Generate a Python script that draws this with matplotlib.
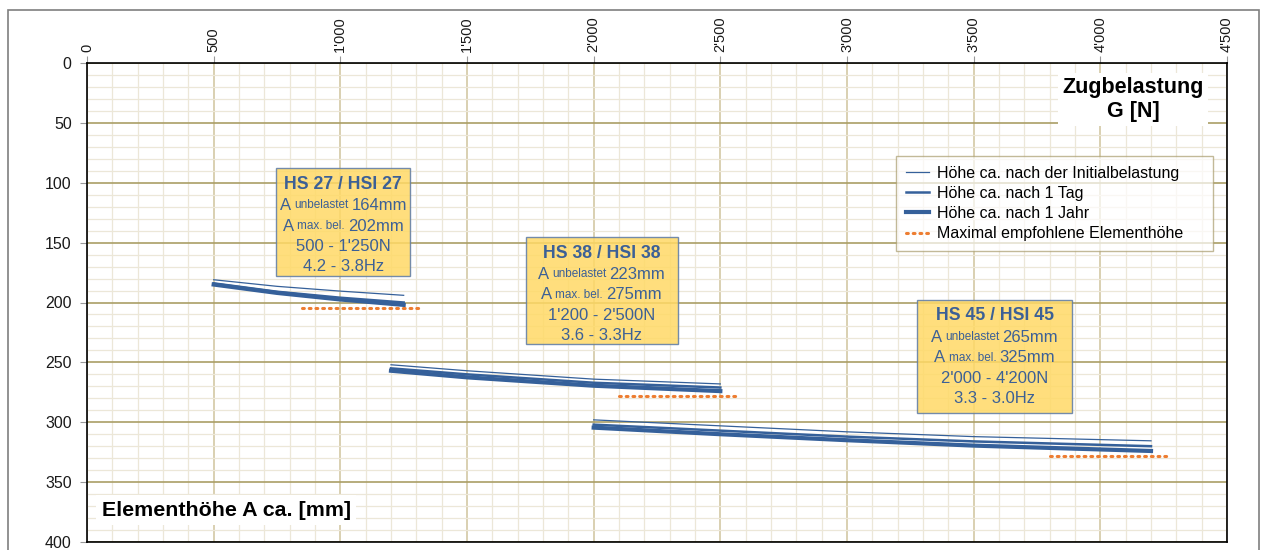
import matplotlib
matplotlib.use("Agg")
import matplotlib.pyplot as plt
from matplotlib.patches import Rectangle
from matplotlib.lines import Line2D
from matplotlib.ticker import MultipleLocator, FuncFormatter

plt.rcParams['font.family'] = ['Liberation Sans', 'DejaVu Sans']

# Daten: Zugbelastung G [N] und Elementhöhe A [mm]
hs27_x = [500, 750, 1000, 1250]
hs27_init = [181, 186.5, 190.5, 194]
hs27_tag = [184, 191, 196, 200]
hs27_jahr = [185, 192, 197.5, 202]
hs27_max_x = [850, 1320]
hs27_max = 205

hs38_x = [1200, 1500, 2000, 2500]
hs38_init = [252, 257, 264, 268]
hs38_tag = [255, 260, 267, 271]
hs38_jahr = [257, 262.5, 269.5, 274]
hs38_max_x = [2100, 2570]
hs38_max = 278

hs45_x = [2000, 2500, 3000, 3500, 4200]
hs45_init = [298, 303, 308, 312, 315.5]
hs45_tag = [302, 307, 312, 316, 320]
hs45_jahr = [304.5, 310, 315, 319.5, 324]
hs45_max_x = [3800, 4280]
hs45_max = 328

typen = ["HS 27 / HSI 27", "HS 38 / HSI 38", "HS 45 / HSI 45"]
a_unbelastet = ["164mm", "223mm", "265mm"]
a_max = ["202mm", "275mm", "325mm"]
kraft = ["500 - 1'250N", "1'200 - 2'500N", "2'000 - 4'200N"]
frequenz = ["4.2 - 3.8Hz", "3.6 - 3.3Hz", "3.3 - 3.0Hz"]

legende = ["Höhe ca. nach der Initialbelastung", "Höhe ca. nach 1 Tag",
           "Höhe ca. nach 1 Jahr", "Maximal empfohlene Elementhöhe"]

BLAU = "#35609A"
ORANGE = "#ED7D31"
TEXTBLAU = "#3C6096"


def tausender(v, pos):
    return f"{int(v):,}".replace(",", "'")


fig = plt.figure(figsize=(12.65, 5.5), dpi=100)
ax = fig.add_axes([87 / 1265, 8 / 550, 1140 / 1265, 479 / 550])

# äusserer Rahmen
fig.patches.append(Rectangle((8 / 1265, -0.1), 1251 / 1265, 1.1 - 10 / 550,
                             transform=fig.transFigure, fill=False,
                             edgecolor="#7f7f7f", lw=1.2))

ax.set_xlim(0, 4500)
ax.set_ylim(400, 0)
ax.xaxis.tick_top()
ax.xaxis.set_major_locator(MultipleLocator(500))
ax.xaxis.set_minor_locator(MultipleLocator(100))
ax.yaxis.set_major_locator(MultipleLocator(50))
ax.yaxis.set_minor_locator(MultipleLocator(10))
ax.xaxis.set_major_formatter(FuncFormatter(tausender))
ax.tick_params(axis="x", which="major", labelrotation=90, labelsize=10.5,
               length=5, color="#999999", labelcolor="#1a1a1a", pad=3)
ax.tick_params(axis="y", which="major", labelsize=11.5, length=5,
               color="#999999", labelcolor="#1a1a1a", pad=6)
ax.tick_params(which="minor", length=0)

ax.grid(True, which="minor", color="#ECE7D8", lw=0.9)
ax.grid(True, which="major", axis="x", color="#D3C8A4", lw=1.2)
ax.grid(True, which="major", axis="y", color="#AA9E66", lw=1.2)
ax.set_axisbelow(True)
for s in ax.spines.values():
    s.set_color("black")
    s.set_linewidth(1.2)

serien = [
    (hs27_x, hs27_init, hs27_tag, hs27_jahr, hs27_max_x, hs27_max),
    (hs38_x, hs38_init, hs38_tag, hs38_jahr, hs38_max_x, hs38_max),
    (hs45_x, hs45_init, hs45_tag, hs45_jahr, hs45_max_x, hs45_max),
]
for x, ini, tag, jahr, mx, mh in serien:
    ax.plot(x, ini, color=BLAU, lw=0.9, zorder=4)
    ax.plot(x, tag, color=BLAU, lw=1.8, zorder=4)
    ax.plot(x, jahr, color=BLAU, lw=3.0, zorder=4)
    ax.plot(mx, [mh, mh], color=ORANGE, lw=2.2, ls=(0, (0.6, 1.6)),
            dash_capstyle="round", zorder=4)

# Beschriftungskästen (Position in Datenkoordinaten: x0, x1, y0, y1)
kaesten = [(748, 1276, 87.5, 177.5), (1731, 2331, 145, 235), (3275, 3890, 197.5, 292)]
renderer = fig.canvas.get_renderer()


def zeile(cx, cy, teile):
    # teile: Liste von (Text, Grösse, fett); zentriert auf (cx, cy)
    objs = []
    for txt, gr, fett in teile:
        t = ax.annotate(txt, xy=(cx, cy), xytext=(0, 0), textcoords="offset pixels",
                        ha="left", va="center_baseline", fontsize=gr, color=TEXTBLAU,
                        fontweight="bold" if fett else "normal", zorder=6)
        objs.append(t)
    breiten = [o.get_window_extent(renderer).width for o in objs]
    luecke = 3
    gesamt = sum(breiten) + luecke * (len(objs) - 1)
    pos = -gesamt / 2
    for o, b in zip(objs, breiten):
        o.xyann = (pos, 0)
        pos += b + luecke


for i, (x0, x1, y0, y1) in enumerate(kaesten):
    ax.add_patch(Rectangle((x0, y0), x1 - x0, y1 - y0, facecolor="#FFD966",
                           alpha=0.85, edgecolor="#5C7AA6", lw=1.0, zorder=5))
    cx = (x0 + x1) / 2
    top = y0 + 11.5
    dz = 17.2
    zeile(cx, top + 0.5, [(typen[i], 12.7, True)])
    zeile(cx, top + dz + 1.5, [("A", 12, False), ("unbelastet", 8.5, False), (a_unbelastet[i], 12, False)])
    zeile(cx, top + 2 * dz + 1.5, [("A", 12, False), ("max. bel.", 8.5, False), (a_max[i], 12, False)])
    zeile(cx, top + 3 * dz + 1.5, [(kraft[i], 12, False)])
    zeile(cx, top + 4 * dz + 1, [(frequenz[i], 12, False)])

# Legende
handles = [
    Line2D([], [], color=BLAU, lw=0.9),
    Line2D([], [], color=BLAU, lw=1.8),
    Line2D([], [], color=BLAU, lw=3.0),
    Line2D([], [], color=ORANGE, lw=2.2, ls=(0, (0.6, 1.6)), dash_capstyle="round"),
]
leg = ax.legend(handles, legende, loc="upper left",
                bbox_to_anchor=(0.7096, 0.806 - 0.2, 0.278, 0.2), mode="expand",
                borderaxespad=0, fontsize=11.5, frameon=True, fancybox=False,
                handlelength=1.5, handletextpad=0.5, labelspacing=0.33,
                borderpad=0.6)
leg.get_frame().set_edgecolor("#A89C6C")
leg.get_frame().set_linewidth(1.0)
leg.get_frame().set_alpha(0.7)
leg.set_zorder(7)

# Achsentitel
ax.text(0.9175, 0.924, "Zugbelastung\nG [N]", transform=ax.transAxes, ha="center",
        va="center", fontsize=15.5, fontweight="bold", color="black", linespacing=1.2,
        bbox=dict(facecolor="white", edgecolor="none", pad=3), zorder=8)
ax.text(0.122, 0.0668, "Elementhöhe A ca. [mm]", transform=ax.transAxes, ha="center",
        va="center", fontsize=15.4, fontweight="bold", color="black",
        bbox=dict(facecolor="white", edgecolor="none", pad=4), zorder=8)

fig.savefig("out.png", dpi=100)
